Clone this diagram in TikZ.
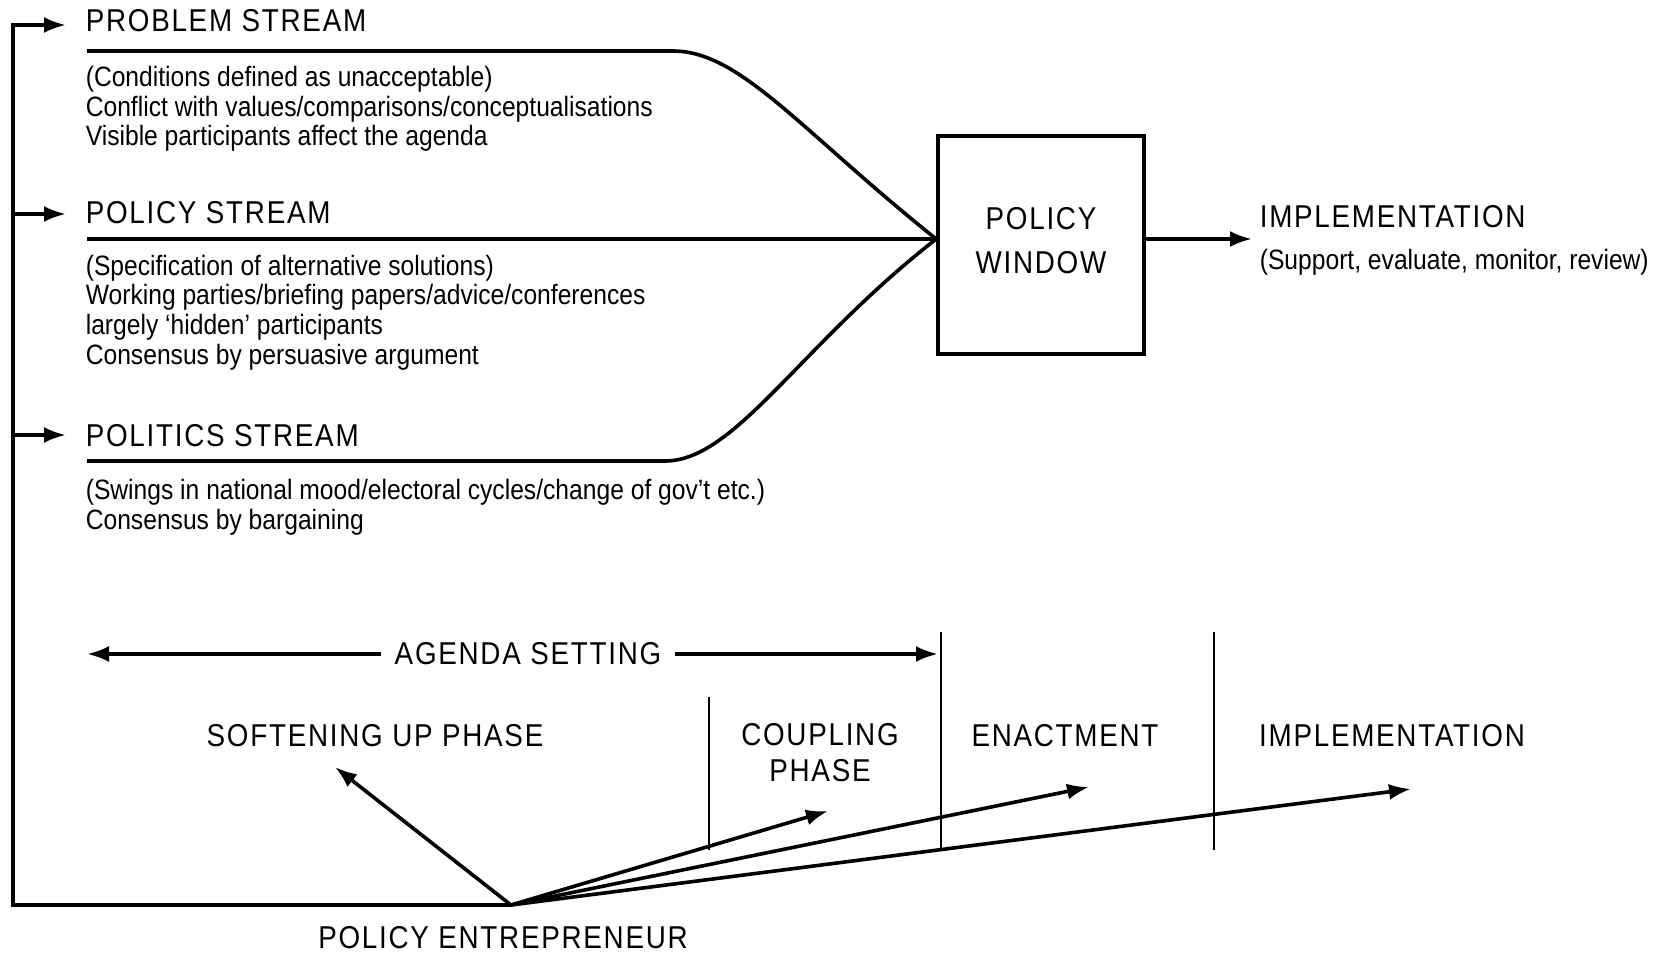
\documentclass[tikz,border=0pt]{standalone}
\usepackage{fontspec}
\setmainfont[FakeStretch=0.88]{Liberation Sans}
\newfontfamily\kopffont[LetterSpace=5.5,FakeStretch=0.88]{Liberation Sans}
\usetikzlibrary{arrows.meta}
\begin{document}
\begin{tikzpicture}[x=0.5pt,y=-0.5pt,>={Latex[length=11pt,width=8pt]},line width=1.8pt]
\tikzset{
	kopf/.style={anchor=west,inner sep=0pt,font=\kopffont\fontsize{15.8}{18}\selectfont},
	phase/.style={inner sep=0pt,align=center,font=\kopffont\fontsize{15.8}{18}\selectfont},
	zeilen/.style={anchor=west,inner sep=0pt,align=left,font=\fontsize{14}{14.85}\selectfont},
	teiler/.style={line width=1.3pt}
}
\useasboundingbox (0,0) rectangle (1661,954);
% streams
\node[kopf] (problem) at (84,21) {PROBLEM STREAM};
\node[kopf] (policy) at (84,213) {POLICY STREAM};
\node[kopf] (politics) at (84,436) {POLITICS STREAM};
\node[zeilen] (problemtext) at (84,109) {(Conditions defined as unacceptable)\\Conflict with values/comparisons/conceptualisations\\Visible participants affect the agenda};
\node[zeilen] (policytext) at (84,312.5) {(Specification of alternative solutions)\\Working parties/briefing papers/advice/conferences\\largely `hidden' participants\\Consensus by persuasive argument};
\node[zeilen] (politicstext) at (84,507) {(Swings in national mood/electoral cycles/change of gov't etc.)\\Consensus by bargaining};
\node[draw,minimum width=103pt,minimum height=109pt,align=center,text depth=5pt,
	font=\kopffont\fontsize{15.8}{22}\selectfont] (fenster) at (1041,245) {POLICY\\WINDOW};
\node[kopf] (umsetzung) at (1258,217) {IMPLEMENTATION};
\node[zeilen] (umsetzungtext) at (1258,262) {(Support, evaluate, monitor, review)};
\coordinate (spitze) at (fenster.west |- 0,239);
\coordinate (ziel) at (1252,239);
\draw (87,51) -- (673,51) .. controls (740,51) and (800,130) .. (spitze);
\draw (87,239) -- (spitze);
\draw (87,461) -- (665,461) .. controls (735,461) and (800,345) .. (spitze);
\draw[->] (fenster.east |- ziel) -- (ziel);
% entrepreneur
\coordinate (unternehmer) at (511,905);
\coordinate (ecke) at (13,905);
\node[phase] (entrepreneur) at (503,938) {POLICY ENTREPRENEUR};
\draw[->] (unternehmer) -- (ecke) -- (13,25) -- (66,25);
\foreach \y in {214,435}{
	\draw[->] (13,\y) -- (66,\y);
}
% phases
\node[phase,inner xsep=6pt] (agenda) at (528,654) {AGENDA SETTING};
\draw[->] (agenda.west) -- (87,654);
\draw[->] (agenda.east) -- (938,654);
\foreach \x/\y in {709/697,941/632,1214/632}{
	\draw[teiler] (\x,\y) -- (\x,850);
}
\node[phase] (softening) at (375,736) {SOFTENING UP PHASE};
\node[phase] (coupling) at (820,753) {COUPLING\\[0pt]PHASE};
\node[phase] (enactment) at (1065,736) {ENACTMENT};
\node[phase] (umsetzung2) at (1392,736) {IMPLEMENTATION};
\coordinate (zsoft) at (335,767);
\coordinate (zcoup) at (828,811);
\coordinate (zenact) at (1089,787);
\coordinate (zimpl) at (1411,789);
\foreach \z in {zsoft,zcoup,zenact,zimpl}{
	\draw[->] (unternehmer) -- (\z);
}
\end{tikzpicture}
\end{document}
